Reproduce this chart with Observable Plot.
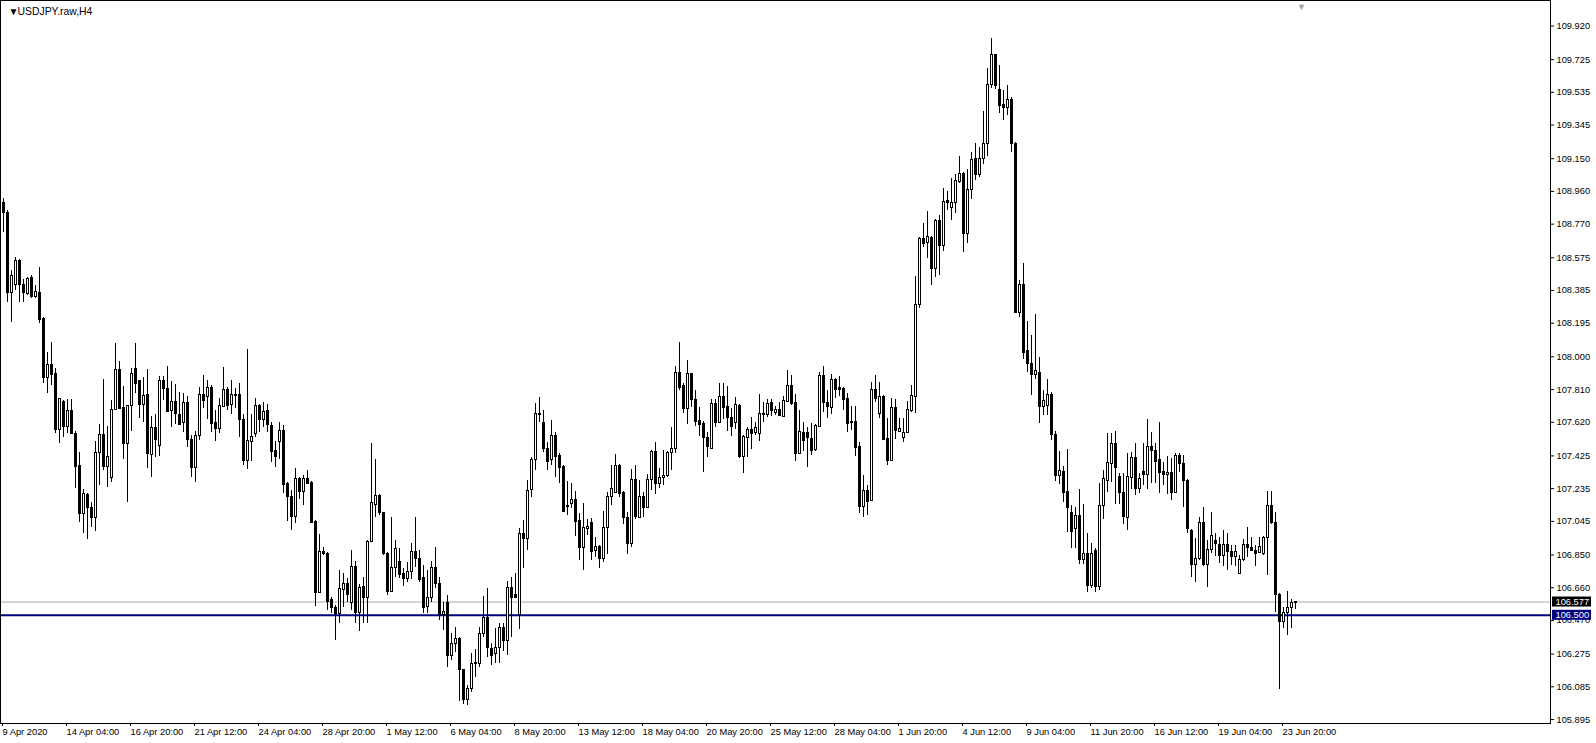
<!DOCTYPE html>
<html><head><meta charset="utf-8">
<script src="https://cdn.jsdelivr.net/npm/d3@7"></script>
<script src="https://cdn.jsdelivr.net/npm/@observablehq/plot@0.6"></script>
<style>
html,body{margin:0;padding:0;background:#fff;}
#chart svg{display:block;}
</style></head><body><div id="chart"></div>
<script>
const symbolTitle = "USDJPY.raw,H4";

const opens = [
108.890,108.832,108.373,108.414,108.559,108.419,108.367,108.460,108.350,108.373,
108.217,107.880,107.950,107.898,107.578,107.740,107.595,107.688,107.554,107.369,
107.085,107.200,107.120,107.067,107.444,107.549,107.363,107.299,107.694,107.921,
107.705,107.496,107.717,107.932,107.857,107.723,107.776,107.433,107.589,107.485,
107.857,107.816,107.688,107.740,107.665,107.618,107.734,107.520,107.357,107.543,
107.776,107.764,107.822,107.618,107.584,107.711,107.810,107.723,107.781,107.776,
107.636,107.398,107.508,107.554,107.717,107.636,107.688,107.601,107.456,107.508,
107.572,107.264,107.189,107.073,107.293,107.218,107.293,107.270,107.044,106.632,
106.870,106.858,106.586,106.545,106.505,106.649,106.684,106.574,106.783,106.516,
106.667,106.603,106.928,107.140,107.195,107.091,106.858,106.638,106.777,106.812,
106.737,106.713,106.754,106.870,106.829,106.719,106.551,106.603,106.777,106.684,
106.499,106.569,106.261,106.336,106.360,106.180,106.010,106.075,106.215,106.220,
106.394,106.482,106.307,106.278,106.313,106.424,106.348,106.661,106.615,106.500,
106.974,106.945,107.229,107.404,107.671,107.618,107.467,107.404,107.543,107.427,
107.363,107.137,107.143,107.171,107.050,106.893,106.998,107.038,106.876,106.899,
106.829,107.009,107.189,107.212,107.369,107.212,107.062,106.916,107.287,107.067,
107.189,107.125,107.287,107.450,107.264,107.299,107.311,107.444,107.467,107.909,
107.828,107.700,107.898,107.752,107.630,107.613,107.531,107.467,107.729,107.618,
107.764,107.711,107.647,107.618,107.717,107.421,107.531,107.578,107.560,107.554,
107.671,107.665,107.734,107.676,107.694,107.653,107.740,107.828,107.734,107.438,
107.560,107.560,107.525,107.462,107.595,107.886,107.734,107.705,107.863,107.822,
107.816,107.758,107.624,107.624,107.479,107.131,107.224,107.166,107.805,107.671,
107.764,107.525,107.398,107.705,107.566,107.531,107.560,107.688,107.764,108.298,
108.686,108.663,108.692,108.512,108.791,108.646,108.907,108.866,108.895,109.012,
109.059,108.715,108.966,109.151,109.053,109.146,109.238,109.575,109.749,109.546,
109.459,109.447,109.488,109.233,108.257,108.419,108.031,107.961,107.892,107.909,
107.711,107.717,107.781,107.549,107.311,107.334,107.218,107.091,106.998,107.079,
106.818,106.858,106.672,106.876,106.667,107.137,107.282,107.380,107.496,107.305,
107.212,107.067,107.299,107.415,107.235,107.334,107.317,107.479,107.456,107.404,
107.334,107.317,107.328,107.212,107.427,107.380,107.282,106.992,106.789,106.829,
107.033,106.789,106.881,106.934,106.910,106.847,106.910,106.870,106.841,106.742,
106.818,106.910,106.893,106.876,106.864,106.853,106.951,107.137,107.038,106.620,
106.459,106.511,106.545,106.569];

const highs = [
108.919,108.849,108.501,108.576,108.565,108.448,108.460,108.472,108.414,108.518,
108.228,108.025,108.083,107.932,107.760,107.745,107.752,107.752,107.566,107.444,
107.229,107.205,107.154,107.508,107.607,107.868,107.595,107.746,108.077,107.973,
107.828,107.720,107.932,108.077,107.860,107.880,107.927,107.653,107.665,107.886,
107.886,107.944,107.857,107.839,107.793,107.787,107.770,107.543,107.566,107.822,
107.892,107.863,107.834,107.688,107.758,107.938,107.822,107.863,107.816,107.845,
107.665,108.043,107.665,107.758,107.723,107.734,107.723,107.618,107.508,107.618,
107.601,107.270,107.224,107.351,107.299,107.311,107.340,107.275,107.050,106.969,
106.893,106.862,106.603,106.557,106.760,106.742,106.713,106.876,106.812,106.678,
106.719,106.935,107.496,107.404,107.200,107.096,106.862,107.067,106.934,106.887,
106.771,106.806,106.916,107.067,106.876,106.789,106.760,106.812,106.893,106.719,
106.574,106.615,106.394,106.429,106.371,106.186,106.093,106.278,106.302,106.429,
106.609,106.655,106.336,106.424,106.453,106.453,106.696,106.719,106.742,107.004,
107.050,107.282,107.415,107.729,107.764,107.688,107.502,107.630,107.560,107.438,
107.368,107.276,107.264,107.218,107.091,107.149,107.056,107.062,106.951,106.904,
107.102,107.212,107.369,107.433,107.375,107.217,107.096,107.346,107.369,107.282,
107.212,107.317,107.455,107.502,107.351,107.456,107.450,107.589,107.944,108.083,
107.845,107.979,107.903,107.805,107.705,107.624,107.560,107.752,107.752,107.845,
107.845,107.828,107.700,107.764,107.723,107.542,107.589,107.647,107.618,107.781,
107.734,107.752,107.752,107.711,107.734,107.770,107.921,107.892,107.781,107.688,
107.618,107.589,107.613,107.606,107.909,107.944,107.805,107.898,107.874,107.886,
107.822,107.787,107.711,107.711,107.502,107.311,107.253,107.851,107.892,107.851,
107.776,107.642,107.758,107.752,107.642,107.642,107.740,107.834,108.466,108.692,
108.774,108.843,108.697,108.796,108.820,108.977,108.960,109.035,109.059,109.163,
109.070,109.088,109.186,109.238,109.215,109.424,109.673,109.847,109.755,109.691,
109.546,109.575,109.505,109.244,108.443,108.541,108.205,108.124,108.246,107.996,
107.805,107.868,107.793,107.566,107.450,107.363,107.462,107.137,107.125,107.229,
107.143,106.974,106.916,106.887,107.264,107.340,107.554,107.554,107.566,107.322,
107.322,107.438,107.444,107.496,107.322,107.496,107.636,107.560,107.496,107.618,
107.386,107.421,107.409,107.438,107.438,107.427,107.287,106.997,106.945,107.067,
107.125,106.934,107.096,106.974,106.951,106.992,106.974,106.905,106.905,106.847,
106.940,107.009,106.951,106.905,106.951,106.957,107.218,107.218,107.096,106.625,
106.545,106.638,106.592,106.580];

const lows = [
108.721,108.315,108.199,108.385,108.315,108.315,108.356,108.338,108.338,108.194,
107.845,107.787,107.834,107.554,107.496,107.531,107.554,107.550,107.235,107.038,
106.974,106.940,107.009,106.986,107.253,107.340,107.241,107.270,107.690,107.695,
107.404,107.154,107.566,107.787,107.642,107.618,107.351,107.299,107.415,107.421,
107.746,107.676,107.589,107.607,107.600,107.560,107.473,107.299,107.270,107.514,
107.700,107.636,107.560,107.508,107.554,107.705,107.688,107.665,107.700,107.531,
107.369,107.346,107.392,107.531,107.560,107.589,107.560,107.386,107.357,107.404,
107.206,107.044,106.992,107.033,107.171,107.137,107.258,107.032,106.551,106.626,
106.848,106.528,106.511,106.354,106.453,106.545,106.574,106.528,106.453,106.406,
106.453,106.453,106.922,107.067,107.079,106.847,106.615,106.632,106.719,106.713,
106.667,106.690,106.707,106.777,106.690,106.511,106.511,106.574,106.655,106.470,
106.412,106.197,106.238,106.284,106.000,105.985,105.975,106.052,106.139,106.197,
106.371,106.255,106.209,106.220,106.220,106.290,106.267,106.371,106.598,106.418,
106.771,106.876,107.183,107.340,107.618,107.444,107.340,107.369,107.299,107.264,
107.095,107.079,107.120,106.957,106.818,106.760,106.963,106.818,106.835,106.771,
106.806,106.853,107.137,107.207,107.183,107.027,106.853,106.893,107.056,107.062,
107.067,107.120,107.224,107.200,107.235,107.253,107.299,107.340,107.438,107.805,
107.671,107.607,107.705,107.595,107.537,107.328,107.415,107.462,107.589,107.613,
107.636,107.566,107.537,107.578,107.409,107.322,107.415,107.462,107.543,107.508,
107.618,107.647,107.653,107.659,107.655,107.648,107.734,107.717,107.392,107.433,
107.450,107.357,107.427,107.450,107.590,107.676,107.642,107.665,107.758,107.770,
107.688,107.560,107.572,107.421,107.091,107.067,107.079,107.160,107.734,107.642,
107.515,107.369,107.392,107.520,107.560,107.502,107.555,107.676,107.671,108.281,
108.634,108.570,108.414,108.460,108.472,108.611,108.849,108.791,108.832,109.006,
108.605,108.657,108.913,109.024,109.041,109.117,109.163,109.557,109.551,109.413,
109.372,109.401,109.186,108.250,108.228,107.985,107.909,107.776,107.868,107.613,
107.659,107.659,107.514,107.276,107.258,107.154,106.980,106.887,106.887,106.795,
106.795,106.632,106.655,106.632,106.644,107.056,107.212,107.270,107.143,107.143,
107.027,106.992,107.229,107.195,107.206,107.253,107.229,107.264,107.264,107.206,
107.253,107.200,107.166,107.206,107.328,107.125,106.974,106.719,106.690,106.818,
106.783,106.661,106.858,106.841,106.800,106.783,106.760,106.789,106.783,106.740,
106.812,106.835,106.870,106.783,106.858,106.847,106.731,107.028,106.516,106.069,
106.424,106.383,106.424,106.534];

const closes = [
108.832,108.373,108.472,108.559,108.414,108.373,108.454,108.350,108.379,108.211,
107.880,107.950,107.892,107.578,107.758,107.595,107.688,107.554,107.363,107.085,
107.206,107.120,107.067,107.444,107.549,107.363,107.421,107.694,107.921,107.700,
107.496,107.717,107.903,107.845,107.723,107.770,107.438,107.589,107.520,107.857,
107.816,107.682,107.740,107.671,107.607,107.734,107.520,107.357,107.543,107.776,
107.746,107.822,107.613,107.584,107.717,107.805,107.717,107.781,107.770,107.636,
107.398,107.514,107.537,107.717,107.636,107.682,107.607,107.450,107.421,107.572,
107.258,107.189,107.073,107.293,107.218,107.293,107.264,107.038,106.632,106.870,
106.853,106.580,106.540,106.505,106.655,106.684,106.620,106.783,106.516,106.661,
106.603,106.928,107.149,107.195,107.091,106.858,106.638,106.777,106.887,106.731,
106.713,106.754,106.870,106.829,106.702,106.545,106.603,106.777,106.684,106.499,
106.522,106.261,106.336,106.360,106.180,106.010,106.075,106.220,106.226,106.394,
106.482,106.313,106.261,106.313,106.424,106.348,106.661,106.603,106.603,106.974,
106.945,107.224,107.404,107.671,107.665,107.467,107.392,107.543,107.421,107.357,
107.102,107.131,107.171,107.044,106.893,107.004,107.015,106.870,106.899,106.829,
107.009,107.189,107.235,107.369,107.206,107.062,106.916,107.287,107.073,107.189,
107.125,107.287,107.450,107.264,107.299,107.311,107.444,107.467,107.909,107.822,
107.700,107.898,107.752,107.624,107.607,107.531,107.479,107.729,107.618,107.764,
107.705,107.647,107.595,107.723,107.421,107.537,107.578,107.554,107.589,107.671,
107.665,107.729,107.688,107.694,107.659,107.746,107.828,107.729,107.438,107.566,
107.514,107.531,107.456,107.601,107.886,107.734,107.711,107.863,107.810,107.810,
107.752,107.613,107.618,107.473,107.131,107.224,107.160,107.805,107.758,107.764,
107.520,107.398,107.705,107.572,107.584,107.560,107.694,107.770,108.298,108.686,
108.657,108.698,108.512,108.791,108.646,108.901,108.895,108.895,109.018,109.059,
108.715,108.966,109.140,109.053,109.146,109.238,109.575,109.749,109.569,109.453,
109.447,109.488,109.233,108.257,108.419,108.025,107.961,107.892,107.915,107.711,
107.746,107.781,107.549,107.311,107.340,107.212,107.125,106.986,107.079,106.818,
106.858,106.672,106.858,106.667,107.137,107.293,107.386,107.496,107.357,107.212,
107.073,107.305,107.415,107.235,107.293,107.317,107.479,107.456,107.392,107.328,
107.317,107.328,107.212,107.427,107.380,107.282,106.998,106.789,106.829,107.033,
106.789,106.881,106.963,106.916,106.847,106.910,106.870,106.841,106.870,106.818,
106.910,106.893,106.876,106.858,106.899,106.951,107.137,107.033,106.620,106.459,
106.516,106.545,106.569,106.577];

const timeLabels = ["9 Apr 2020","14 Apr 04:00","16 Apr 20:00","21 Apr 12:00","24 Apr 04:00",
  "28 Apr 20:00","1 May 12:00","6 May 04:00","8 May 20:00","13 May 12:00","18 May 04:00",
  "20 May 20:00","25 May 12:00","28 May 04:00","1 Jun 20:00","4 Jun 12:00","9 Jun 04:00",
  "11 Jun 20:00","16 Jun 12:00","19 Jun 04:00","23 Jun 20:00"];
const barsPerTimeLabel = 16;

const priceTicks = [109.920,109.725,109.535,109.345,109.150,108.960,108.770,108.575,108.385,
  108.195,108.000,107.810,107.620,107.425,107.235,107.045,106.850,106.660,106.470,106.275,
  106.085,105.895];

const bidPrice = 106.577;
const levelPrice = 106.500;
const shiftMarkerBar = 324.5;

// ---- build ----
const candles = opens.map((o, i) => ({i, open: o, high: highs[i], low: lows[i], close: closes[i]}));
const labelBars = timeLabels.map((t, k) => k * barsPerTimeLabel);
const labelOf = new Map(timeLabels.map((t, k) => [k * barsPerTimeLabel, t]));

const W = 1596, H = 743, plotW = 1550, plotH = 723;
const barPx = 4;
const xDomain = [-0.75, -0.75 + plotW / barPx];
const yDomain = [105.872, 110.068];
const xAt = px => xDomain[0] + px / barPx;             // pixel -> bar index
const pricePerPx = (yDomain[1] - yDomain[0]) / plotH;
const FONT = "'Liberation Sans', Arial, sans-serif";

const boxMark = (price, color) => [
  Plot.rect([price], {x1: xAt(plotW + 2), x2: xAt(plotW + 41), y1: d => d + 5 * pricePerPx, y2: d => d - 5 * pricePerPx, fill: color}),
  Plot.text([price], {x: xAt(plotW + 5), y: d => d, text: d => d.toFixed(3), fill: "white", textAnchor: "start", fontSize: 9.3})
];

const chart = Plot.plot({
  width: W, height: H,
  marginLeft: 0, marginRight: W - plotW, marginTop: 0, marginBottom: H - plotH,
  style: {fontFamily: FONT, fontSize: "9px", background: "white", color: "black"},
  x: {type: "linear", domain: xDomain},
  y: {type: "linear", domain: yDomain},
  marks: [
    Plot.ruleY([bidPrice], {stroke: "#a8a8a8", strokeWidth: 1}),
    Plot.ruleY([levelPrice], {stroke: "#000080", strokeWidth: 2}),
    Plot.ruleX(candles, {x: "i", y1: "low", y2: "high", stroke: "black", strokeWidth: 1, shapeRendering: "crispEdges"}),
    Plot.rect(candles, {
      x1: d => d.i - 0.25, x2: d => d.i + 0.25, y1: "open", y2: "close", dx: 0.5,
      fill: d => d.close >= d.open ? "white" : "black", stroke: "black", strokeWidth: 1,
      shapeRendering: "crispEdges"
    }),
    Plot.frame({stroke: "black"}),
    Plot.axisY(priceTicks, {anchor: "right", tickSize: 3, tickPadding: 3, tickFormat: d => d.toFixed(3), fontSize: 9.3, label: null}),
    Plot.axisX(labelBars, {anchor: "bottom", tickSize: 3, tickPadding: 2, tickFormat: d => labelOf.get(d), textAnchor: "start", dx: -1, fontSize: 9.3, label: null}),
    ...boxMark(bidPrice, "black"),
    ...boxMark(levelPrice, "#000080"),
    Plot.text([symbolTitle], {frameAnchor: "top-left", dx: 17, dy: 7, text: d => d, textAnchor: "start", lineAnchor: "top", fontSize: 10.4, fill: "black"}),
    Plot.text(["▼"], {frameAnchor: "top-left", dx: 8, dy: 7, text: d => d, fontSize: 10, fill: "black"}),
    Plot.text([shiftMarkerBar], {x: d => d, frameAnchor: "top", dy: 3, text: () => "▼", fontSize: 9, fill: "#a0a0a0"})
  ]
});
document.getElementById("chart").appendChild(chart);
</script>
</body></html>
